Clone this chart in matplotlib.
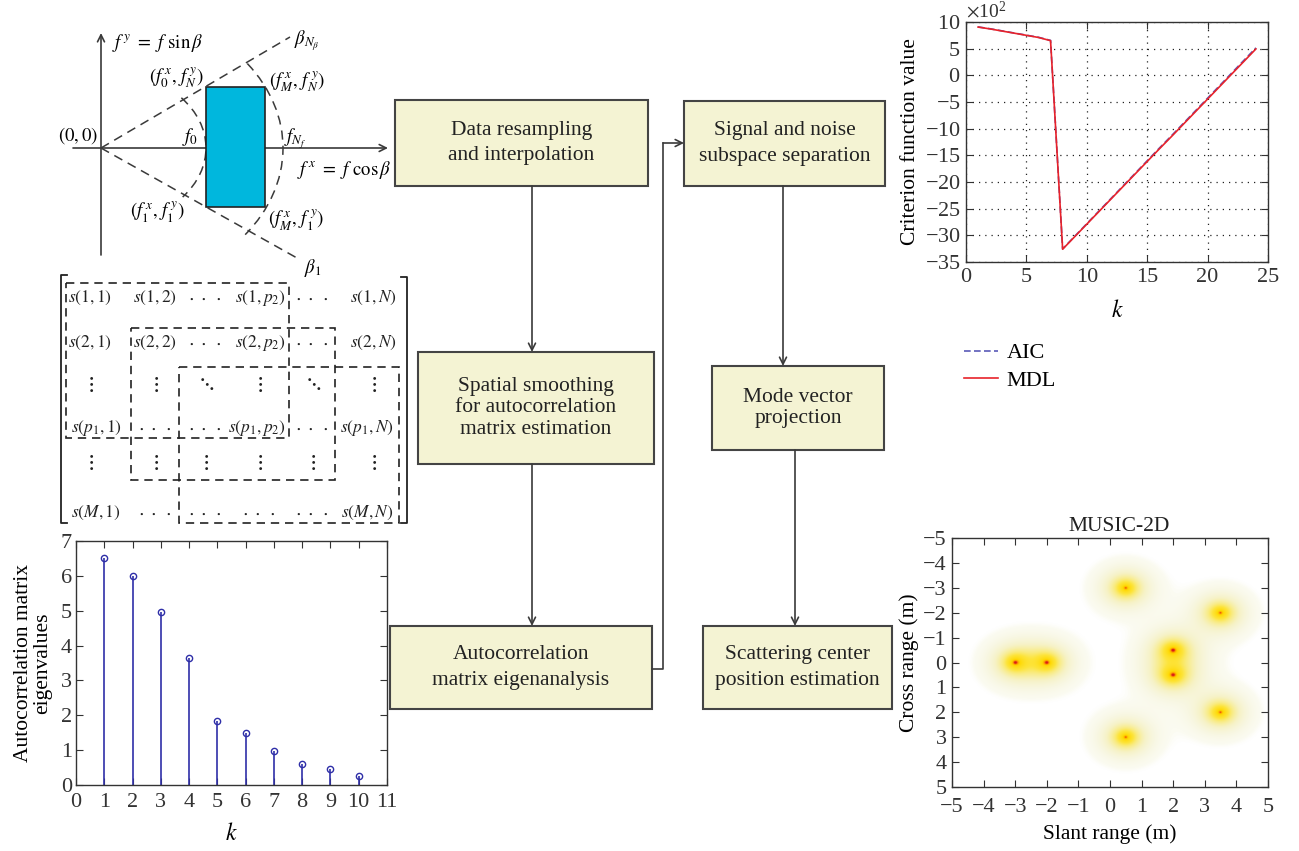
import numpy as np
import matplotlib
matplotlib.use("Agg")
import matplotlib.pyplot as plt
from matplotlib.patches import Rectangle, Arc
from matplotlib.colors import LinearSegmentedColormap

plt.rcParams["font.family"] = ["Liberation Serif", "DejaVu Serif"]
plt.rcParams["mathtext.fontset"] = "stix"

W, H = 1299, 851

# ---- data -------------------------------------------------------------
eig_k = [1, 2, 3, 4, 5, 6, 7, 8, 9, 10]
eig_vals = [6.5, 6.0, 4.95, 3.65, 1.85, 1.5, 0.97, 0.6, 0.47, 0.27]

crit_k = list(range(1, 25))
mdl_vals = [905, 870, 830, 790, 750, 710, 650, -3260, -3025, -2790, -2555, -2320,
            -2085, -1850, -1615, -1380, -1150, -915, -680, -445, -210, 25, 260, 495]
aic_vals = [908, 873, 833, 793, 753, 713, 655, -3255, -3018, -2782, -2546, -2310,
            -2074, -1838, -1602, -1366, -1135, -900, -664, -428, -192, 44, 280, 515]

scat_x = [-3.0, -2.0, 0.5, 0.5, 2.0, 2.0, 3.5, 3.5]
scat_y = [0.0, 0.0, -3.0, 3.0, -0.5, 0.5, -2.0, 2.0]

flow_text = [
    "Data resampling\nand interpolation",
    "Spatial smoothing\nfor autocorrelation\nmatrix estimation",
    "Autocorrelation\nmatrix eigenanalysis",
    "Signal and noise\nsubspace separation",
    "Mode vector\nprojection",
    "Scattering center\nposition estimation",
]

CD = r"$\cdot\;\cdot\;\cdot$"
matrix_cells = [
    [r"$s(1,1)$", r"$s(1,2)$", CD, r"$s(1,p_2)$", CD, r"$s(1,N)$"],
    [r"$s(2,1)$", r"$s(2,2)$", CD, r"$s(2,p_2)$", CD, r"$s(2,N)$"],
    [r"$\vdots$", r"$\vdots$", r"$\ddots$", r"$\vdots$", r"$\ddots$", r"$\vdots$"],
    [r"$s(p_1,1)$", CD, CD, r"$s(p_1,p_2)$", CD, r"$s(p_1,N)$"],
    [r"$\vdots$", r"$\vdots$", r"$\vdots$", r"$\vdots$", r"$\vdots$", r"$\vdots$"],
    [r"$s(M,1)$", CD, CD, CD, CD, r"$s(M,N)$"],
]

# ---- layout (pixels, y down) -----------------------------------------
flow_boxes = [(395, 100, 648, 186), (418, 352, 654, 464), (390, 626, 652, 709),
              (684, 101, 885, 186), (712, 366, 884, 450), (703, 626, 892, 709)]
flow_spacing = [1.45, 1.2, 1.45, 1.45, 1.2, 1.45]
mat_cols = [90, 155, 205, 259, 312, 373]
mat_rows = [298, 343, 385, 428, 463, 513]

BOX_FC = "#f4f3d3"
LINE = "#3a3a3a"
TXT = "#222222"


def px_axes(fig, l, t, r, b):
    return fig.add_axes([l / W, 1 - b / H, (r - l) / W, (b - t) / H])


def matlab_style(ax, xpad=5, ypad=3):
    ax.tick_params(direction="in", top=True, right=True, length=5, width=0.8,
                   labelsize=16, labelcolor="#333333", color="#333333")
    ax.tick_params(axis="x", pad=xpad)
    ax.tick_params(axis="y", pad=ypad)
    for s in ax.spines.values():
        s.set_linewidth(1.0)
        s.set_color("#333333")


def arrow(ax, p0, p1):
    ax.annotate("", xy=p1, xytext=p0,
                arrowprops=dict(arrowstyle="->,head_length=0.5,head_width=0.25",
                                color=LINE, lw=1.2, shrinkA=0, shrinkB=0))


fig = plt.figure(figsize=(W / 100, H / 100), dpi=100)

# overlay for diagrams and flowchart
ax0 = fig.add_axes([0, 0, 1, 1])
ax0.set_xlim(0, W)
ax0.set_ylim(H, 0)
ax0.axis("off")

# frequency-plane sketch
ox, oy = 101, 148
arrow(ax0, (73, oy), (388, oy))
arrow(ax0, (ox, 255), (ox, 33))
dash = (0, (6, 4))
ax0.plot([ox, 290], [oy, 37], color=LINE, lw=1.1, ls=dash)
ax0.plot([ox, 297], [oy, 258], color=LINE, lw=1.1, ls=dash)
ax0.add_patch(Arc((ox, oy), 210, 156, theta1=-32, theta2=31, color=LINE, lw=1.1, ls=dash))
ax0.add_patch(Arc((ox, oy), 364, 284, theta1=-30, theta2=31, color=LINE, lw=1.1, ls=dash))
ax0.add_patch(Rectangle((206, 87), 59, 120, facecolor="#00b7dd", edgecolor="#222222", lw=1.2, zorder=3))

ms = 13.5
ax0.text(112, 43, r"$f^{\,y}\ =\ f\ \sin\beta$", fontsize=ms, ha="left", va="center")
ax0.text(294, 41, r"$\beta_{N_\beta}$", fontsize=ms, ha="left", va="center")
ax0.text(176, 78, r"$(f_0^{\,x},\, f_N^{\,y})$", fontsize=ms, ha="center", va="center")
ax0.text(297, 82, r"$(f_M^{\,x},\, f_N^{\,y})$", fontsize=ms, ha="center", va="center")
ax0.text(78, 136, r"$(0, 0)$", fontsize=ms, ha="center", va="center")
ax0.text(190, 137, r"$f_0$", fontsize=ms, ha="center", va="center")
ax0.text(284, 139, r"$f_{N_f}$", fontsize=ms, ha="left", va="center")
ax0.text(297, 170, r"$f^{\,x}\ =\ f\ \cos\beta$", fontsize=ms, ha="left", va="center")
ax0.text(157, 212, r"$(f_1^{\,x},\, f_1^{\,y})$", fontsize=ms, ha="center", va="center")
ax0.text(296, 220, r"$(f_M^{\,x},\, f_1^{\,y})$", fontsize=ms, ha="center", va="center")
ax0.text(304, 268, r"$\beta_1$", fontsize=ms, ha="left", va="center")

# matrix
ax0.plot([67, 61, 61, 67], [275, 275, 523, 523], color="#222222", lw=1.3)
ax0.plot([401, 407, 407, 401], [277, 277, 523, 523], color="#222222", lw=1.3)
for (l, t, r, b) in [(66, 283, 289, 438), (131, 328, 335, 480), (179, 367, 399, 523)]:
    ax0.add_patch(Rectangle((l, t), r - l, b - t, fill=False, edgecolor="#222222",
                            lw=1.2, ls=(0, (5, 3.5))))
for i, row in enumerate(matrix_cells):
    for j, cell in enumerate(row):
        x, ha = mat_cols[j], "center"
        if cell.startswith("$s") and j == 0:
            x, ha = 68 if i < 2 else 71, "left"
        elif cell.startswith("$s") and j == 5:
            x, ha = 397 if i < 2 else 394, "right"
        elif cell.startswith("$s") and j == 3:
            x, ha = 286, "right"
        if cell.startswith("$s"):
            size = 12.5
        elif cell == CD:
            size = 14
        else:
            size = 16
        ax0.text(x, mat_rows[i], cell, fontsize=size, ha=ha, va="center", color=TXT)

# flowchart
for (l, t, r, b), txt, lsp in zip(flow_boxes, flow_text, flow_spacing):
    ax0.add_patch(Rectangle((l, t), r - l, b - t, facecolor=BOX_FC, edgecolor="#444444", lw=1.5))
    ax0.text((l + r) / 2, (t + b) / 2, txt, fontsize=15.5, ha="center", va="center",
             linespacing=lsp, color=TXT)
arrow(ax0, (532, 186), (532, 352))
arrow(ax0, (532, 464), (532, 626))
ax0.plot([652, 663, 663], [669, 669, 143], color=LINE, lw=1.2)
arrow(ax0, (663, 143), (684, 143))
arrow(ax0, (783, 186), (783, 366))
arrow(ax0, (795, 450), (795, 626))

# eigenvalue stem plot
ax1 = px_axes(fig, 76, 541, 387, 785)
mk, st, bl = ax1.stem(eig_k, eig_vals)
plt.setp(st, color="#2f2fa8", lw=1.2)
plt.setp(mk, color="#2f2fa8", mfc="none", markersize=4.5, mew=1.0)
bl.set_visible(False)
ax1.set_xlim(0, 11)
ax1.set_ylim(0, 7)
ax1.set_xticks(range(0, 12))
ax1.set_yticks(range(0, 8))
matlab_style(ax1, xpad=6, ypad=3)
ax1.set_xlabel(r"$k$", fontsize=17, labelpad=8)
ax1.set_ylabel("Autocorrelation matrix\neigenvalues", fontsize=15.5, labelpad=6, linespacing=1.05)

# criterion plot
ax2 = px_axes(fig, 966, 22, 1268, 262)
ax2.plot(crit_k, aic_vals, color="#5a5ab8", lw=1.2, ls=(0, (4, 2)), label="AIC")
ax2.plot(crit_k, mdl_vals, color="#e8222a", lw=1.2, label="MDL")
ax2.set_xlim(0, 25)
ax2.set_ylim(-3500, 1000)
ax2.set_xticks(range(0, 26, 5))
ax2.set_yticks(range(-3500, 1001, 500))
ax2.ticklabel_format(axis="y", style="sci", scilimits=(2, 2), useMathText=True)
ax2.yaxis.get_offset_text().set_fontsize(14)
ax2.grid(True, color="#222222", ls=(0, (1, 4)), lw=0.9)
matlab_style(ax2, xpad=4, ypad=4)
ax2.set_xlabel(r"$k$", fontsize=17, labelpad=10)
ax2.set_ylabel("Criterion function value", fontsize=15.5, labelpad=3)
ax2.legend(loc="upper left", bbox_to_anchor=(-0.035, -0.30), frameon=False, fontsize=16,
           handlelength=1.5, handletextpad=0.4, labelspacing=0.3, borderaxespad=0)

# MUSIC-2D pseudo-spectrum
ax3 = px_axes(fig, 952, 538, 1268, 787)
gx = np.linspace(-5, 5, 700)
GX, GY = np.meshgrid(gx, gx)
field = np.zeros_like(GX)
for sx, sy in zip(scat_x, scat_y):
    field += np.exp(-np.hypot(GX - sx, GY - sy) / 0.4)
field = np.clip(field, 0, 1)
cmap = LinearSegmentedColormap.from_list(
    "music", [(0.0, "#ffffff"), (0.025, "#ffffff"), (0.04, "#fbfbf1"), (0.1, "#f8f7e3"),
              (0.22, "#f6f2c6"), (0.4, "#f9eb80"), (0.55, "#fde43a"), (0.82, "#ffd800"),
              (0.92, "#ff9a00"), (1.0, "#d81a1a")])
ax3.imshow(field, extent=(-5, 5, 5, -5), cmap=cmap, vmin=0, vmax=1, aspect="auto",
           interpolation="bilinear")
ax3.set_xticks(range(-5, 6))
ax3.set_yticks(range(-5, 6))
matlab_style(ax3, xpad=8, ypad=4)
ax3.set_title("MUSIC-2D", fontsize=15.5, pad=5, color=TXT, x=0.53)
ax3.set_xlabel("Slant range (m)", fontsize=15.5, labelpad=5)
ax3.set_ylabel("Cross range (m)", fontsize=15.5, labelpad=3)

fig.savefig("out.png", dpi=100)
